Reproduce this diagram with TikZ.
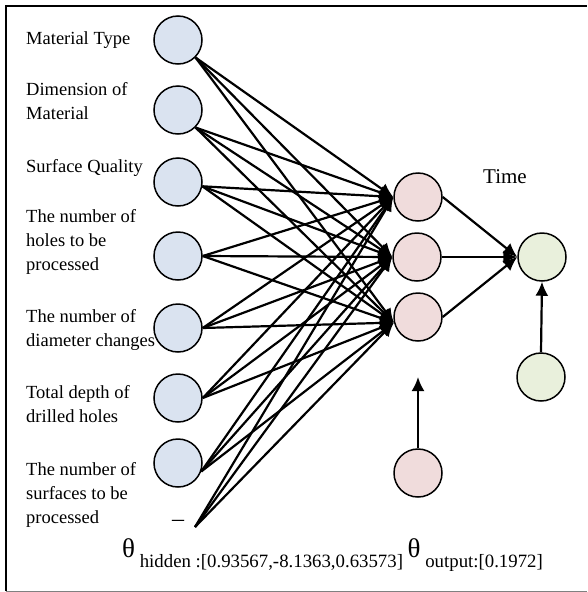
\documentclass[tikz,border=0pt]{standalone}
\usepackage{fontspec}
\setmainfont{Liberation Serif}
\usetikzlibrary{arrows.meta}
\definecolor{inblue}{RGB}{218,227,240}
\definecolor{hidpink}{RGB}{240,220,220}
\definecolor{outgreen}{RGB}{233,240,220}
\tikzset{
  neuron/.style={circle, draw=black, line width=1.5pt, minimum size=48pt, inner sep=0pt},
  innode/.style={neuron, fill=inblue},
  hidnode/.style={neuron, fill=hidpink},
  outnode/.style={neuron, fill=outgreen},
  link/.style={line width=2.2pt, -{Latex[length=14pt,width=13pt]}},
  lbl/.style={anchor=north west, inner sep=0pt, align=left, font=\fontsize{18.5}{24}\selectfont},
}
\begin{document}
\begin{tikzpicture}[x=1pt,y=-1pt]
\useasboundingbox (0,0) rectangle (587,592);
% frame
\draw[line width=2.4pt] (6,591) -- (6,6) -- (587,6);
\draw[gray, line width=1pt] (6,591) -- (587,591);

% input neurons
\node[innode] (in1) at (178,40) {};
\node[innode] (in2) at (178,110) {};
\node[innode] (in3) at (178,182) {};
\node[innode] (in4) at (178,256) {};
\node[innode] (in5) at (178,328) {};
\node[innode] (in6) at (178,398) {};
\node[innode] (in7) at (178,463) {};

% hidden neurons
\node[hidnode] (h1) at (418,197) {};
\node[hidnode] (h2) at (417,257) {};
\node[hidnode] (h3) at (418,317) {};
\node[hidnode] (hb) at (418,473) {};

% output neurons
\node[outnode] (out) at (542,257) {};
\node[outnode] (ob) at (541,377) {};

% bias points
\coordinate (bias) at (195,527);
\coordinate (hbtip) at (418,377);

% labels
\node[lbl] (t1) at (26,31) {Material Type};
\node[lbl] (t2) at (26,82) {Dimension of\\Material};
\node[lbl] (t3) at (26,159) {Surface Quality};
\node[lbl] (t4) at (26,209) {The number of\\holes to be\\processed};
\node[lbl] (t5) at (26,309) {The number of\\diameter changes};
\node[lbl] (t6) at (26,385) {Total depth of\\drilled holes};
\node[lbl] (t7) at (26,462) {The number of\\surfaces to be\\processed};
\node[anchor=base west, inner sep=0pt, font=\fontsize{21}{21}\selectfont] (time) at (483,183) {Time};
\node[anchor=base, inner sep=0pt, font=\fontsize{24}{24}\selectfont] (dash) at (178,526) {–};

\node[anchor=base west, inner sep=0pt, font=\fontsize{18.8}{24}\selectfont] (theta) at (122,557)
  {{\fontsize{27}{27}\selectfont θ} \raisebox{-10pt}{hidden :[0.93567,-8.1363,0.63573]}
   {\fontsize{27}{27}\selectfont θ} \raisebox{-10pt}{output:[0.1972]}};

% input -> hidden
\foreach \i/\a in {in1/-45, in2/-45, in3/-10, in4/0, in5/0, in6/0, in7/-20}{
  \foreach \h/\b in {h1/180, h2/180, h3/193}{
    \draw[link] (\i.\a) -- (\h.\b);
  }
}
% bias -> hidden
\foreach \h/\b in {h1/180, h2/180, h3/193}{
  \draw[link] (bias) -- (\h.\b);
}
% hidden -> output
\draw[link] (h1.east) -- (out.west);
\draw[link] (h2.east) -- (out.west);
\draw[link] (h3.east) -- (out.west);
% bias arrows
\draw[link] (hb.north) -- (hbtip);
\draw[link] (ob.north) -- (out.south);
\end{tikzpicture}
\end{document}
